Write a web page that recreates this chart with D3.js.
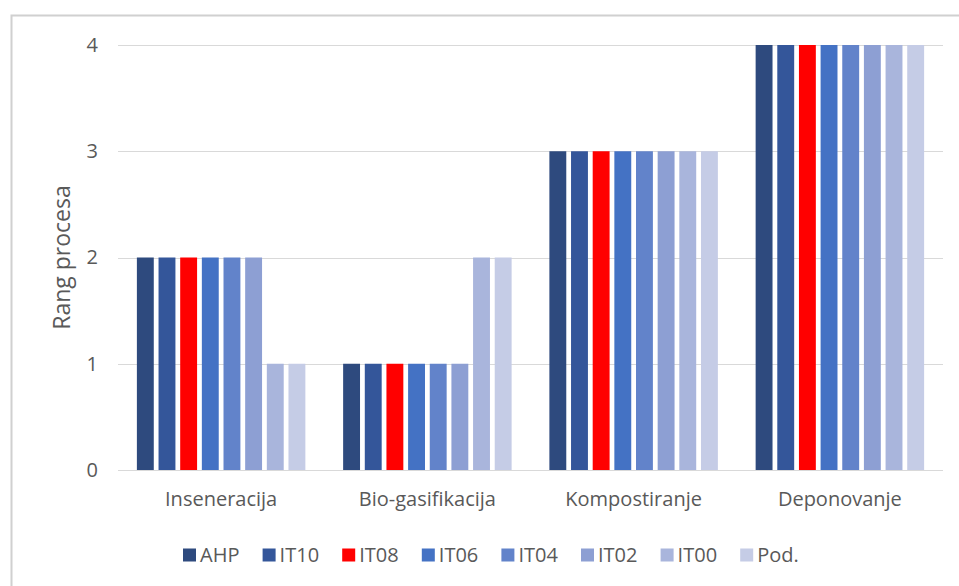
<!DOCTYPE html>
<html><head><meta charset="utf-8">
<script src="https://cdn.jsdelivr.net/npm/d3@7"></script>
<style>
html,body{margin:0;padding:0;background:#fff;}
svg{display:block;}
text{font-family:"Open Sans","Noto Sans",sans-serif;fill:#595959;}
</style></head>
<body>
<svg id="chart" width="959" height="586"></svg>
<script>
const categories = ["Inseneracija","Bio-gasifikacija","Kompostiranje","Deponovanje"];
const seriesNames = ["AHP","IT10","IT08","IT06","IT04","IT02","IT00","Pod."];
const AHP  = [2,1,3,4];
const IT10 = [2,1,3,4];
const IT08 = [2,1,3,4];
const IT06 = [2,1,3,4];
const IT04 = [2,1,3,4];
const IT02 = [2,1,3,4];
const IT00 = [1,2,3,4];
const Pod  = [1,2,3,4];
const seriesValues = [AHP,IT10,IT08,IT06,IT04,IT02,IT00,Pod];
const colors = ["#2E4A7E","#34569A","#FF0000","#4472C4","#6283CA","#8D9FD3","#A9B5DC","#C5CCE6"];
const yTicks = [0,1,2,3,4];

const svg = d3.select("#chart");
const FONT = '"Open Sans","Noto Sans",sans-serif';

// outer frame (left and top visible)
svg.append("path").attr("d","M11.5,586 L11.5,15.5 L959,15.5")
  .attr("fill","none").attr("stroke","#d0d0d0").attr("stroke-width",2);

const plot = {left:118, right:943, top:45, bottom:470};

const y = d3.scaleLinear().domain([0,4]).range([plot.bottom, plot.top]);
const x0 = d3.scaleBand().domain(categories).range([plot.left, plot.right]).paddingInner(0.16).paddingOuter(0.08);
const x1 = d3.scaleBand().domain(seriesNames).range([0, x0.bandwidth()]).paddingInner(0.22).paddingOuter(0.11);

// gridlines
svg.append("g").selectAll("line").data(yTicks).join("line")
  .attr("x1",plot.left).attr("x2",plot.right)
  .attr("y1",d=>Math.round(y(d))+0.5).attr("y2",d=>Math.round(y(d))+0.5)
  .attr("stroke","#d9d9d9").attr("stroke-width",1);

// y axis labels
const yAxis = d3.axisLeft(y).tickValues(yTicks).tickSize(0).tickPadding(0).tickFormat(d3.format("d"));
const ya = svg.append("g").attr("transform",`translate(${plot.left-20},0)`).call(yAxis);
ya.select(".domain").remove();
ya.selectAll("text").style("font-size","20px").attr("fill","#595959").style("font-family",FONT);

// y title
svg.append("text").attr("transform",`translate(70,${(plot.top+plot.bottom)/2}) rotate(-90)`)
  .attr("text-anchor","middle").style("font-size","23px").text("Rang procesa");

// bars
const rows = [];
categories.forEach((c,ci)=>seriesNames.forEach((s,si)=>rows.push({c,s,v:seriesValues[si][ci],color:colors[si]})));
svg.append("g").selectAll("rect").data(rows).join("rect")
  .attr("x",d=>x0(d.c)+x1(d.s))
  .attr("width",x1.bandwidth())
  .attr("y",d=>y(d.v))
  .attr("height",d=>y(0)-y(d.v))
  .attr("fill",d=>d.color);

// x axis labels
const xAxis = d3.axisBottom(x0).tickSize(0).tickPadding(0);
const xa = svg.append("g").attr("transform",`translate(0,${plot.bottom+22})`).call(xAxis);
xa.select(".domain").remove();
xa.selectAll("text").style("font-size","20px").attr("fill","#595959").style("font-family",FONT);

// legend
const legStep = 79.6, legStart = 183;
const lg = svg.append("g").selectAll("g").data(seriesNames).join("g")
  .attr("transform",(d,i)=>`translate(${legStart+i*legStep},555)`);
lg.append("rect").attr("x",0).attr("y",-6.5).attr("width",13).attr("height",13).attr("fill",(d,i)=>colors[i]);
lg.append("text").attr("x",17).attr("y",0).attr("dy","0.35em").style("font-size","20px").text(d=>d);
</script>
</body></html>
